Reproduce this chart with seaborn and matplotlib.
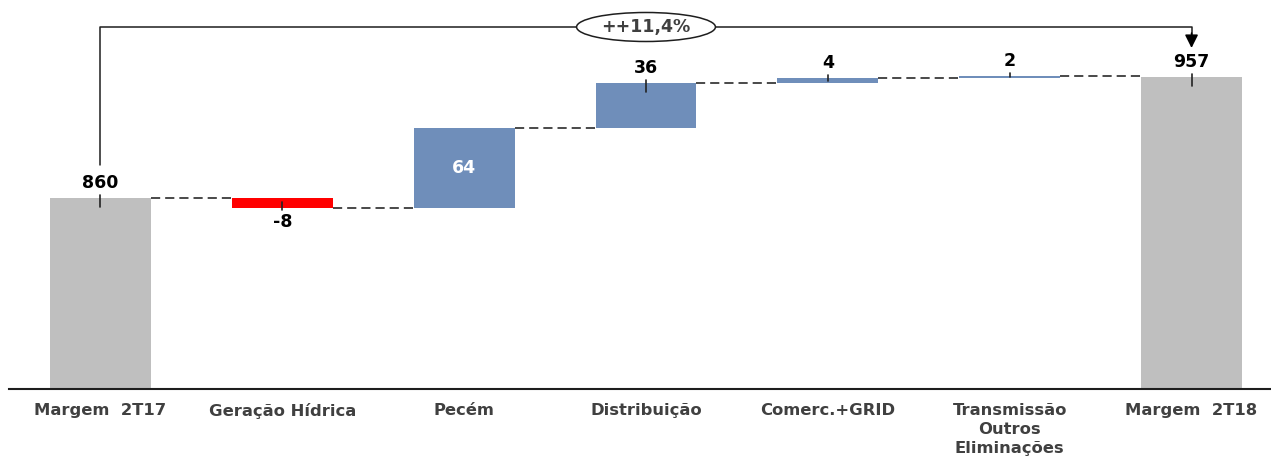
import matplotlib
matplotlib.use("Agg")
import matplotlib.pyplot as plt
from matplotlib.patches import Ellipse
import pandas as pd
import seaborn as sns

# --- data -----------------------------------------------------------------
categories = ["Margem  2T17", "Geração Hídrica", "Pecém", "Distribuição",
              "Comerc.+GRID", "Transmissão\nOutros\nEliminações", "Margem  2T18"]
values = [860, -8, 64, 36, 4, 2, 957]
is_total = [True, False, False, False, False, False, True]
value_labels = ["860", "-8", "64", "36", "4", "2", "957"]
growth_label = "++11,4%"

# --- style ----------------------------------------------------------------
GRAY, RED, BLUE = "#BFBFBF", "#FF0000", "#6F8EBA"
TEXT_DARK = "#404040"
label_inside = [False, False, True, False, False, False, False]

sns.set_style("white")
plt.rcParams["font.family"] = ["DejaVu Sans"]

# --- waterfall geometry ---------------------------------------------------
bases, heights, ends, levels, colors = [], [], [], [], []
running = 0
for v, tot in zip(values, is_total):
    if tot:
        bases.append(0); heights.append(v); ends.append(v)
        running = v
        colors.append(GRAY)
    else:
        lo, hi = (running, running + v) if v >= 0 else (running + v, running)
        bases.append(lo); heights.append(hi - lo)
        ends.append(hi if v >= 0 else lo)
        running += v
        colors.append(BLUE if v >= 0 else RED)
    levels.append(running)

df = pd.DataFrame({"category": categories, "height": heights})

W, H = 12.71, 4.62
fig = plt.figure(figsize=(W, H), dpi=100)
ax = fig.add_axes([9 / 1271, 73 / 462, 1 - 9 / 1271, 389 / 462])

bar_w = 0.555
sns.barplot(data=df, x="category", y="height", hue="category",
            palette=dict(zip(categories, colors)), legend=False,
            width=bar_w, saturation=1, ax=ax, zorder=2)

# float the step bars onto their running base
for patch, b in zip(sorted(ax.patches, key=lambda p: p.get_x()), bases):
    patch.set_y(b)
    patch.set_linewidth(0)

ymin, ymax = 706.9, 1018.7
ax.set_ylim(ymin, ymax)
ax.set_xlim(-0.503, 6.437)
px = (ymax - ymin) / 389.0  # data units per pixel

# dashed connectors between consecutive bars
for i in range(len(values) - 1):
    ax.plot([i + bar_w / 2, i + 1 - bar_w / 2], [levels[i], levels[i]],
            color="#2A2A2A", lw=1.2, ls=(0, (5.5, 3)), zorder=3)

# value labels with small marker ticks
for i, (v, lab) in enumerate(zip(values, value_labels)):
    if label_inside[i]:
        ax.text(i, bases[i] + heights[i] / 2, lab, ha="center", va="center",
                color="white", fontsize=12.5, fontweight="bold", zorder=5)
        continue
    e = ends[i]
    inner = 9 * px if heights[i] >= 9 * px else heights[i] * 0.6
    if v >= 0:
        ax.plot([i, i], [e + 3 * px, e - inner], color="#222222", lw=1.2, zorder=4)
        ax.text(i, e + 6 * px, lab, ha="center", va="bottom",
                color="black", fontsize=12.5, fontweight="bold", zorder=5)
    else:
        ax.plot([i, i], [e - 2 * px, e + 6 * px], color="#222222", lw=1.2, zorder=4)
        ax.text(i, e - 5 * px, lab, ha="center", va="top",
                color="black", fontsize=12.5, fontweight="bold", zorder=5)

# growth bracket from first to last total
first, last = 0, len(values) - 1
y_br = ends[first] + 171 * px
ax.plot([first, first, last, last],
        [ends[first] + 33 * px, y_br, y_br, y_br - 8 * px],
        color="#1E1E1E", lw=1.1, zorder=3, clip_on=False)
ax.annotate("", xy=(last, y_br - 21 * px), xytext=(last, y_br - 6 * px),
            arrowprops=dict(arrowstyle="-|>", color="black", lw=1.1,
                            mutation_scale=20, shrinkA=0, shrinkB=0),
            zorder=4)
mid = (first + last) / 2
ax.add_patch(Ellipse((mid, y_br), width=139 / 182, height=29 * px,
                     facecolor="white", edgecolor="#1E1E1E", lw=1.1, zorder=4))
ax.text(mid, y_br, growth_label, ha="center", va="center", color=TEXT_DARK,
        fontsize=12.5, fontweight="bold", zorder=5)

# axes cosmetics
for s in ("top", "left", "right"):
    ax.spines[s].set_visible(False)
ax.spines["bottom"].set_color("#1E1E1E")
ax.spines["bottom"].set_linewidth(1.5)
ax.set_yticks([])
ax.set_xlabel("")
ax.set_ylabel("")
ax.set_xticks(range(len(categories)))
ax.set_xticklabels(categories, fontsize=11.8, fontweight="bold",
                   color=TEXT_DARK, linespacing=1.35, va="top")
ax.tick_params(axis="x", length=0, pad=10)

fig.savefig("out.png", dpi=100)
